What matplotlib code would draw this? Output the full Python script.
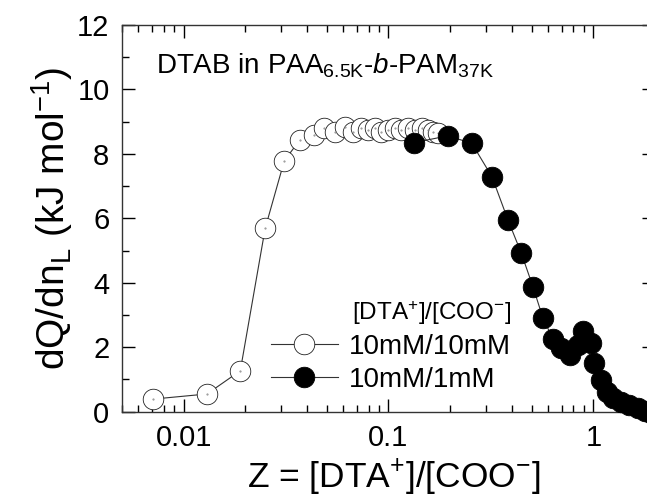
import numpy as np
import matplotlib
matplotlib.use('Agg')
import matplotlib.pyplot as plt
from matplotlib.ticker import MultipleLocator, FixedLocator, LogLocator, NullFormatter

# ==============================
# data
# ==============================
z_10mM = [0.00706, 0.0130, 0.0189, 0.0250, 0.0310, 0.0369, 0.0432, 0.0487,
          0.0545, 0.0610, 0.0670, 0.0736, 0.0793, 0.0855, 0.0921, 0.0993,
          0.107, 0.115, 0.124, 0.134, 0.145, 0.156, 0.165, 0.174]
dq_10mM = [0.39, 0.55, 1.27, 5.69, 7.79, 8.43, 8.59, 8.80,
           8.69, 8.85, 8.69, 8.80, 8.74, 8.80, 8.69, 8.74,
           8.80, 8.74, 8.80, 8.74, 8.80, 8.74, 8.69, 8.64]

z_1mM = [0.133, 0.195, 0.255, 0.320, 0.383, 0.445, 0.507, 0.568, 0.636,
         0.698, 0.766, 0.842, 0.891, 0.971, 1.01, 1.09, 1.16, 1.25,
         1.37, 1.50, 1.65, 1.78, 1.92]
dq_1mM = [8.35, 8.56, 8.33, 7.29, 5.95, 4.92, 3.88, 2.90, 2.25,
          1.97, 1.76, 2.07, 2.51, 2.12, 1.50, 0.98, 0.62, 0.42,
          0.31, 0.21, 0.11, 0.02, -0.05]

x_ticks = [0.01, 0.1, 1]
x_ticklabels = ['0.01', '0.1', '1']
y_ticks = [0, 2, 4, 6, 8, 10, 12]

series_labels = ['10mM/10mM', '10mM/1mM']

plt.rcParams['font.family'] = ['Liberation Sans', 'DejaVu Sans']
plt.rcParams['mathtext.fontset'] = 'custom'
plt.rcParams['mathtext.rm'] = 'Liberation Sans'
plt.rcParams['mathtext.it'] = 'Liberation Sans:italic'
plt.rcParams['mathtext.bf'] = 'Liberation Sans:bold'

W, H = 647, 499
fig = plt.figure(figsize=(W / 100, H / 100), dpi=100)
# axes box in pixels: left 122, top 25, bottom 411.7, right 655 (cropped)
ax = fig.add_axes([122 / W, 1 - 411.7 / H, (655 - 122) / W, (411.7 - 25) / H])

line_c = '#333333'
ms = 14.8

ax.plot(z_10mM, dq_10mM, '-', color=line_c, lw=0.8, marker='o', ms=ms,
        mfc='white', mec='#222222', mew=0.6, clip_on=False, zorder=3,
        label=series_labels[0])
ax.plot(z_10mM, dq_10mM, ls='none', marker='.', ms=1, color='#888888',
        clip_on=False, zorder=3.5)
ax.plot(z_1mM, dq_1mM, '-', color=line_c, lw=0.8, marker='o', ms=ms,
        mfc='black', mec='black', mew=0.6, clip_on=False, zorder=4,
        label=series_labels[1])

ax.set_xscale('log')
ax.set_xlim(0.005, 2.0)
ax.set_ylim(0, 12)

ax.xaxis.set_major_locator(FixedLocator(x_ticks))
ax.set_xticklabels(x_ticklabels)
ax.xaxis.set_minor_locator(LogLocator(base=10, subs=np.arange(2, 10)))
ax.xaxis.set_minor_formatter(NullFormatter())
ax.yaxis.set_major_locator(FixedLocator(y_ticks))
ax.yaxis.set_minor_locator(MultipleLocator(1))

ax.tick_params(which='both', direction='in', top=True, right=True,
               labelsize=21, width=1.0, color='black')
ax.tick_params(which='major', length=9.5, pad=9)
ax.tick_params(which='minor', length=5)
for s in ax.spines.values():
    s.set_linewidth(1.0)
    s.set_color('#333333')

fig.text(394 / W, 1 - 488 / H, r'Z = [DTA$^{\mathregular{+}}$]/[COO$^{\mathregular{-}}$]',
         fontsize=25.5, ha='center', va='baseline')
fig.text(52 / W, 1 - 218 / H, r'dQ/dn$_{\mathregular{L}}$ (kJ mol$^{\mathregular{-1}}$)',
         fontsize=28, ha='center', va='center', rotation=90)

fig.text(156 / W, 1 - 73.5 / H,
         r'DTAB in PAA$_{\mathregular{6.5K}}$-$\mathit{b}$-PAM$_{\mathregular{37K}}$',
         fontsize=20, ha='left', va='baseline')

leg = ax.legend(loc='lower left', bbox_to_anchor=(271 / W, 1 - 393 / H),
                bbox_transform=fig.transFigure, frameon=False, fontsize=20,
                handlelength=2.4, handletextpad=0.4, labelspacing=0.25,
                borderpad=0, borderaxespad=0,
                title=r'[DTA$^{\mathregular{+}}$]/[COO$^{\mathregular{-}}$]',
                title_fontsize=17.5, alignment='right')

fig.savefig('out.png', dpi=100)
